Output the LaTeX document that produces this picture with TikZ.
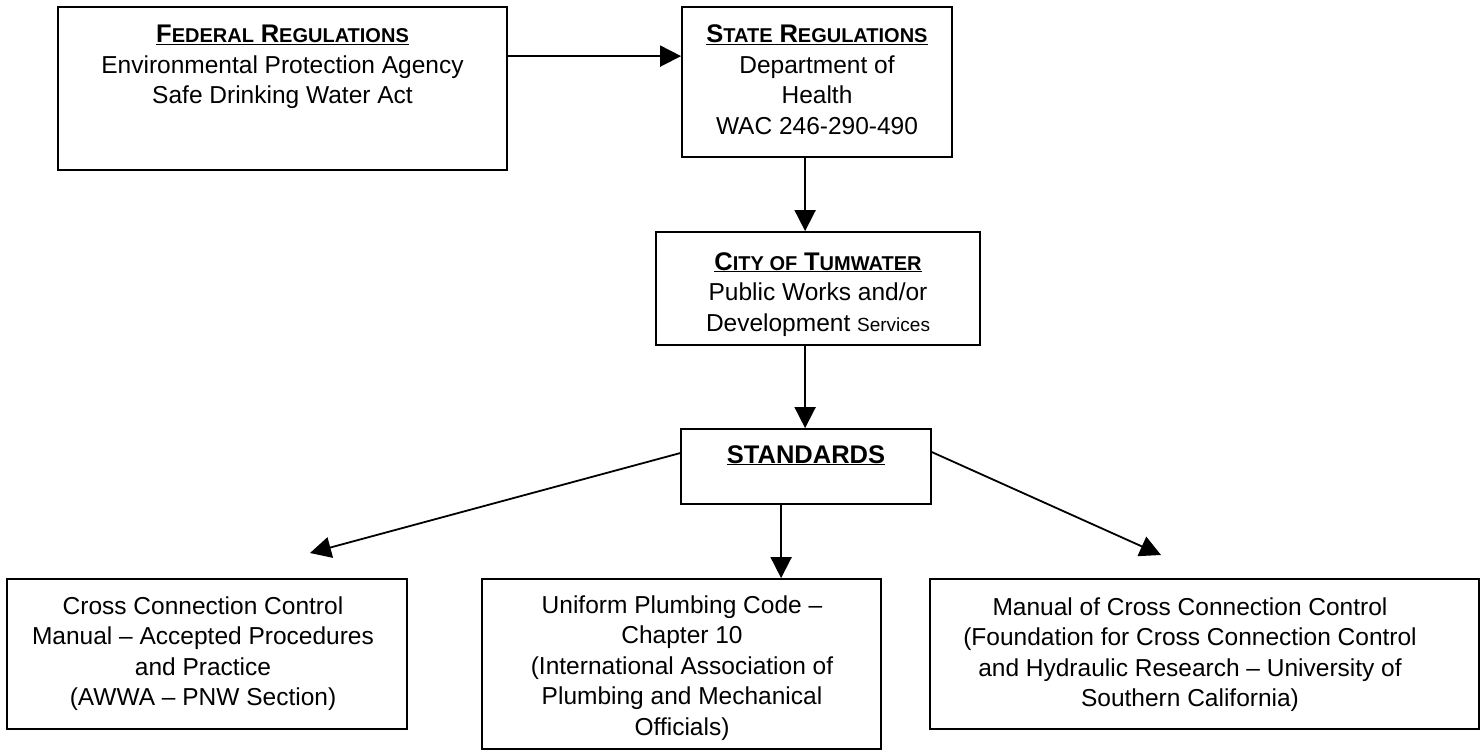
\documentclass[tikz,border=0pt]{standalone}
\usepackage{fontspec}
\setmainfont{Liberation Sans}
\usetikzlibrary{arrows.meta,calc,fit}
\newcommand{\schdr}[2]{{\fontsize{25.5}{30.5}\selectfont #1}{\fontsize{20}{30.5}\selectfont #2}}
\newcommand{\blk}[2]{\parbox[t]{#1pt}{\centering\fontsize{24.5}{30.5}\selectfont #2}}
\begin{document}
\begin{tikzpicture}[x=1pt,y=-1pt,
  box/.style={draw, line width=1.8pt, inner sep=0pt},
  txt/.style={anchor=base, inner sep=0pt},
  arr/.style={line width=1.8pt, -{Triangle[length=21pt,width=21pt]}}]
\useasboundingbox (0,0) rectangle (1482,752);

% boxes
\node[box, fit={(58,7) (507,170)}] (fed) {};
\node[box, fit={(682,7) (952,157)}] (state) {};
\node[box, fit={(656,232) (980,345)}] (city) {};
\node[box, fit={(681,429) (931,504)}] (std) {};
\node[box, fit={(7,579) (407,729)}] (left) {};
\node[box, fit={(482,579) (881,749)}] (mid) {};
\node[box, fit={(930,579) (1479,729)}] (right) {};

% texts
\node[txt] (fedt) at (282.5,43) {\blk{440}{\underline{\textbf{\schdr{F}{EDERAL} \schdr{R}{EGULATIONS}}}\\
Environmental Protection Agency\\ Safe Drinking Water Act}};
\node[txt] (statet) at (817,43) {\blk{265}{\underline{\textbf{\schdr{S}{TATE} \schdr{R}{EGULATIONS}}}\\
Department of\\ Health\\ WAC 246-290-490}};
\node[txt] (cityt) at (818,270) {\blk{320}{\underline{\textbf{\schdr{C}{ITY OF} \schdr{T}{UMWATER}}}\\
Public Works and/or\\ Development {\fontsize{19}{30.5}\selectfont Services}}};
\node[txt] (stdt) at (806,463) {\blk{245}{\underline{\textbf{\fontsize{25.5}{30.5}\selectfont STANDARDS}}}};
\node[txt] (leftt) at (203,614) {\blk{395}{Cross Connection Control\\
Manual – Accepted Procedures\\ and Practice\\ (AWWA – PNW Section)}};
\node[txt] (midt) at (682,613) {\blk{395}{Uniform Plumbing Code –\\ Chapter 10\\
(International Association of\\ Plumbing and Mechanical\\ Officials)}};
\node[txt] (rightt) at (1190,615) {\blk{540}{Manual of Cross Connection Control\\
(Foundation for Cross Connection Control\\ and Hydraulic Research – University of\\ Southern California)}};

% free arrow ends
\coordinate (tl) at (310,553);
\coordinate (tr) at (1161,555);

% connectors
\draw[arr] ($(fed.north east)+(0,50)$) -- ($(state.north west)+(0,50)$);
\draw[arr] ($(state.south west)+(124,0)$) -- ($(city.north west)+(150,0)$);
\draw[arr] ($(city.south west)+(150,0)$) -- ($(std.north west)+(125,0)$);
\draw[arr] ($(std.north west)+(0,25)$) -- (tl);
\draw[arr] ($(std.north east)+(0,24)$) -- (tr);
\draw[arr] ($(std.south west)+(101,0)$) -- ($(mid.north west)+(300,0)$);
\end{tikzpicture}
\end{document}
